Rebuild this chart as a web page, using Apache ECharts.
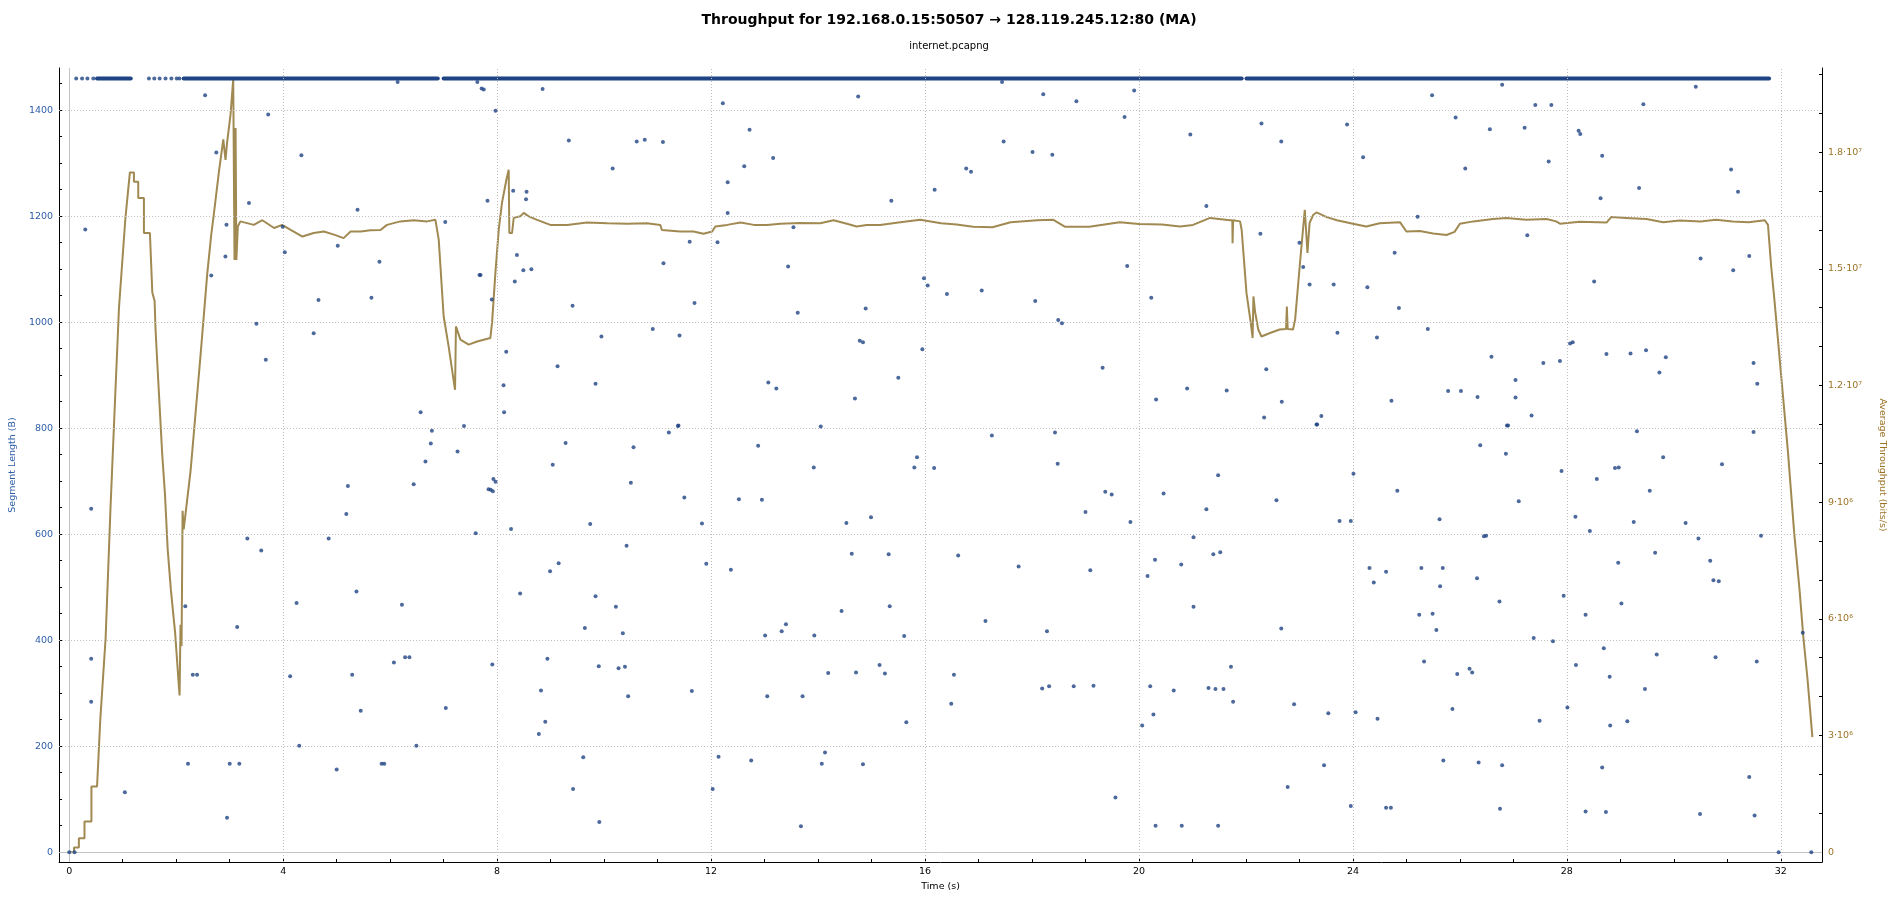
<!DOCTYPE html>
<html>
<head>
<meta charset="utf-8">
<script src="https://cdn.jsdelivr.net/npm/echarts@6/dist/echarts.min.js"></script>
<style>
html, body { margin: 0; padding: 0; background: #fff; }
#container { width: 1898px; height: 901px; }
</style>
</head>
<body>
<div id="container"></div>
<script>
// axis ticks
var timeLabels = [0, 4, 8, 12, 16, 20, 24, 28, 32];
var timeTicks = [0,1,2,3,4,5,6,7,8,9,10,11,12,13,14,15,16,17,18,19,20,21,22,23,24,25,26,27,28,29,30,31,32];
var segLabels = [0, 200, 400, 600, 800, 1000, 1200, 1400];
var segTicks = [0,50,100,150,200,250,300,350,400,450,500,550,600,650,700,750,800,850,900,950,1000,1050,1100,1150,1200,1250,1300,1350,1400,1450];
var tputLabels = [0, 3e6, 6e6, 9e6, 12e6, 15e6, 18e6];
var tputTicks = [0,1e6,2e6,3e6,4e6,5e6,6e6,7e6,8e6,9e6,10e6,11e6,12e6,13e6,14e6,15e6,16e6,17e6,18e6,19e6,20e6];

// full-size segments (1460 B) : dense runs and a few isolated ones
var fullLen = 1460;
var fullRuns = [[0.52, 1.15], [2.14, 6.89], [7.00, 21.92], [22.01, 31.78]];
var fullSingles = [0.13, 0.24, 0.34, 0.45, 1.49, 1.59, 1.69, 1.80, 1.91, 2.01, 2.06];

// other segments [time s, length B]
var segments = [
  [0.0,0],[0.1,0],[0.30,1175],[0.41,648],[0.41,365],[0.41,284],[1.04,113],
  [2.54,1428],[3.72,1392],[2.75,1320],[4.34,1315],[3.36,1225],[5.39,1212],[2.94,1184],[3.99,1180],[7.03,1189],
  [5.02,1144],[4.03,1132],[2.92,1124],[5.80,1114],[2.655,1088],[4.66,1042],[5.65,1046],[3.50,997],[4.57,979],
  [3.675,929],[6.57,830],[6.78,795],[6.76,771],[6.66,737],[5.21,691],[6.44,694],[5.18,638],[3.33,592],[4.85,592],
  [3.59,569],[5.37,492],[4.25,470],[6.22,467],[2.17,464],[3.14,425],[6.07,358],[6.28,368],[6.36,368],[2.31,335],
  [2.39,335],[4.13,332],[5.29,335],[7.91,354],[5.45,267],[7.04,272],[4.30,201],[6.49,201],[5.0,156],[2.22,167],
  [3.00,167],[3.18,167],[2.95,65],[5.84,167],[5.89,167],[7.26,756],[7.38,804],[7.60,602],[7.93,704],[7.97,699],
  [7.84,685],[7.88,684],[7.92,681],
  [6.14,1453],[7.63,1453],[7.71,1441],[7.75,1439],[7.97,1399],[7.82,1229],[7.67,1089],[7.69,1089],[7.90,1043],
  [8.12,881],[8.13,830],[8.17,944],
  [8.30,1248],[8.55,1246],[8.54,1232],[8.37,1127],[8.33,1077],[8.49,1098],[8.64,1100],[8.85,1440],
  [9.34,1343],[10.61,1341],[10.76,1344],[11.10,1340],[10.16,1290],[12.72,1363],[13.16,1310],[12.62,1294],
  [12.31,1264],[12.31,1206],[12.12,1151],[11.60,1152],[11.11,1111],[11.69,1036],[11.41,975],[10.91,987],
  [9.95,973],[9.41,1031],[9.13,917],[9.84,884],[13.44,1105],[13.62,1018],[13.54,1179],[13.07,886],[13.22,875],
  [14.78,965],[14.84,962],[14.69,856],[14.89,1026],[14.05,803],[11.39,805],[12.22,1413],
  [8.26,610],[8.43,488],[8.78,223],[8.82,305],[8.90,246],[8.94,365],[8.99,530],[9.04,731],[9.15,545],[9.28,772],
  [9.42,119],[9.61,179],[9.64,423],[9.74,619],[9.84,483],[9.90,351],[9.91,57],[10.22,463],[10.27,347],[10.39,350],
  [10.35,413],[10.42,578],[10.45,294],[10.50,697],[10.55,764],[11.21,792],[11.38,804],[11.50,669],[11.64,304],
  [11.83,620],[11.91,544],[12.03,119],[12.14,180],[12.37,533],[12.52,666],[12.75,173],[12.88,767],[12.95,665],
  [13.01,409],[13.05,294],[13.32,417],[13.40,430],[13.68,49],[13.71,294],[13.92,726],[13.93,409],[14.07,167],
  [14.13,188],[14.19,338],
  [14.53,621],[14.63,563],[14.44,455],[14.71,339],[14.84,166],[14.99,632],[15.15,353],[15.25,337],[15.32,562],
  [15.34,464],[15.61,408],[15.65,245],[15.80,726],[15.85,745],[16.17,725],[16.49,280],[16.54,335],[16.62,560],
  [17.13,436],[17.25,786],[17.75,539],[18.19,309],[18.32,313],[18.28,417],[18.43,792],[18.48,733],[18.78,313],
  [19.15,314],[19.00,642],[19.09,532],[19.37,680],[19.49,675],[19.56,103],[19.84,623],
  [14.75,1426],[15.37,1229],[15.50,895],[15.95,949],[15.98,1083],[16.05,1069],[16.18,1250],[16.41,1053],
  [16.77,1290],[16.86,1284],[17.06,1060],[17.44,1453],[17.47,1341],[18.01,1321],[18.38,1316],[18.06,1040],
  [18.21,1430],[18.49,1004],[18.56,998],[18.83,1417],[19.32,914],[19.73,1387],[19.78,1106],[19.91,1437],
  [20.23,1046],[20.32,854],
  [20.06,239],[20.16,521],[20.21,313],[20.27,260],[20.30,552],[20.31,50],[20.46,677],[20.65,305],[20.79,543],
  [20.80,50],[21.02,463],[21.02,594],[21.26,647],[21.30,310],[21.43,308],[21.58,308],[21.39,562],[21.52,566],
  [21.48,711],[21.48,50],[21.72,350],[21.76,284],
  [20.96,1354],[22.66,1341],[24.19,1311],[26.10,1290],[27.66,1303],[28.22,1361],[28.25,1355],[28.66,1314],
  [28.63,1234],[29.35,1253],[26.56,1364],[21.26,1219],[22.27,1167],[25.21,1199],[27.26,1164],[23.0,1150],
  [23.07,1104],[23.19,1071],[23.64,1071],[24.78,1131],[24.27,1066],[24.86,1027],[23.71,980],[24.45,971],
  [25.40,987],[28.51,1077],[22.38,911],[20.90,875],[21.64,871],[22.67,850],[22.34,820],[23.41,823],[23.33,807],
  [24.72,852],[26.59,935],[25.78,870],[26.02,870],[26.33,859],[27.04,891],[27.04,858],[27.34,824],[26.90,805],
  [27.56,923],[27.87,927],[28.06,960],[28.11,962],[28.74,940],[29.19,941],[29.48,947],[29.73,905],[29.85,934],
  [22.29,1375],[23.89,1373],
  [22.57,664],[22.66,422],[22.78,123],[22.90,279],[23.32,807],[23.46,164],[23.54,262],[23.75,625],[23.96,625],
  [23.96,87],[24.01,714],[24.05,264],[24.31,536],[24.39,509],[24.46,252],[24.62,529],[24.62,84],[24.71,84],
  [24.83,682],[25.24,448],[25.28,536],[25.33,360],[25.49,450],[25.56,419],[25.62,628],[25.63,502],[25.68,536],
  [25.69,173],[25.86,270],[25.95,336],[26.18,346],[26.23,339],[26.32,517],[26.35,169],[26.38,768],[26.45,596],
  [26.49,597],[26.74,473],[26.75,82],[26.79,164],[26.86,752],[26.88,805],[27.10,662],[27.38,404],[27.49,248],
  [27.74,398],
  [27.90,719],[27.94,484],[28.01,273],[28.16,633],[28.17,353],[28.35,77],[28.35,448],[28.43,606],[28.56,704],
  [28.66,160],[28.69,385],[28.73,76],[28.80,331],[28.81,239],[28.90,725],[28.97,726],[28.96,546],[29.02,469],
  [29.13,247],[29.25,623],[29.31,794],[29.46,308],[29.55,682],[29.65,565],[29.68,373],[29.80,745],[30.22,621],
  [30.46,592],[30.49,72],[30.68,550],[30.74,513],[30.84,511],[30.78,368],[30.90,732],[31.41,142],[31.49,793],
  [31.51,69],[31.55,360],[31.63,597],[31.96,0],[32.41,414],[32.57,0],
  [25.48,1428],[26.79,1448],[25.92,1386],[27.21,1367],[27.41,1410],[27.71,1410],[29.43,1411],[30.41,1444],
  [31.07,1288],[31.20,1246],[30.50,1120],[31.11,1098],[31.41,1125],[31.49,923],[31.56,884]
];

// moving-average throughput [time s, Mbit/s]
var throughput = [
  [0,0],[0.09,0],[0.09,0.12],[0.18,0.12],[0.18,0.36],[0.285,0.36],[0.285,0.79],[0.415,0.79],[0.415,1.69],
  [0.52,1.69],[0.58,3.4],[0.68,5.5],[0.77,8.8],[0.84,11.1],[0.93,14.0],[1.05,16.3],[1.134,17.48],[1.209,17.48],
  [1.209,17.24],[1.29,17.24],[1.29,16.82],[1.396,16.82],[1.396,15.92],[1.508,15.92],[1.553,14.39],[1.596,14.17],
  [1.614,13.42],[1.676,11.82],[1.739,10.22],[1.79,9.2],[1.84,7.8],[1.90,6.75],[1.98,5.64],[2.05,4.26],
  [2.063,4.03],[2.08,5.85],[2.10,5.3],[2.119,8.78],[2.14,8.30],[2.175,8.30],[2.268,9.80],[2.35,11.1],
  [2.455,12.78],[2.58,14.87],[2.655,15.88],[2.704,16.41],[2.797,17.48],[2.88,18.33],[2.922,17.80],[2.95,18.23],
  [3.016,18.97],[3.066,19.88],[3.09,15.23],[3.11,18.62],[3.125,15.23],[3.152,16.09],[3.20,16.22],[3.45,16.13],
  [3.61,16.25],[3.83,16.05],[3.98,16.13],[4.14,16.0],[4.36,15.83],[4.57,15.92],[4.76,15.96],[4.95,15.88],
  [5.13,15.79],[5.26,15.96],[5.45,15.96],[5.63,15.99],[5.82,16.0],[5.94,16.13],[6.19,16.22],[6.44,16.25],
  [6.69,16.22],[6.846,16.26],[6.908,15.75],[7.0,13.78],[7.094,13.0],[7.157,12.41],[7.213,11.89],[7.23,13.52],
  [7.26,13.5],[7.313,13.18],[7.468,13.05],[7.625,13.13],[7.873,13.22],[7.905,13.61],[7.967,14.89],[8.03,16.01],
  [8.09,16.69],[8.173,17.29],[8.216,17.55],[8.228,15.92],[8.279,15.92],[8.31,16.31],[8.433,16.35],[8.496,16.44],
  [8.59,16.35],[8.746,16.26],[8.995,16.13],[9.31,16.13],[9.68,16.19],[10.06,16.17],[10.43,16.16],[10.8,16.17],
  [11.05,16.13],[11.08,16.0],[11.42,15.96],[11.67,15.96],[11.86,15.90],[12.02,15.96],[12.08,16.09],[12.3,16.13],
  [12.55,16.19],[12.8,16.13],[13.05,16.13],[13.29,16.16],[13.66,16.18],[14.04,16.17],[14.29,16.25],[14.54,16.16],
  [14.72,16.09],[14.91,16.13],[15.16,16.13],[15.5,16.19],[15.91,16.26],[16.3,16.17],[16.59,16.14],[16.9,16.08],
  [17.26,16.07],[17.6,16.2],[18.1,16.25],[18.4,16.26],[18.62,16.08],[19.07,16.08],[19.64,16.2],[20.0,16.15],
  [20.43,16.14],[20.77,16.09],[21.01,16.13],[21.33,16.31],[21.70,16.25],[21.745,16.25],[21.75,15.66],
  [21.76,16.25],[21.89,16.22],[21.92,16.0],[22.01,14.38],[22.09,13.61],[22.125,13.22],[22.14,14.29],
  [22.17,13.9],[22.23,13.44],[22.29,13.26],[22.45,13.35],[22.63,13.44],[22.75,13.45],[22.765,14.03],
  [22.78,13.45],[22.88,13.44],[22.92,13.7],[23.01,15.15],[23.10,16.52],[23.13,16.56],[23.15,15.41],
  [23.19,16.18],[23.26,16.39],[23.32,16.45],[23.51,16.33],[23.7,16.25],[24.0,16.16],[24.25,16.09],[24.5,16.17],
  [24.88,16.2],[25.0,15.96],[25.25,15.97],[25.5,15.91],[25.75,15.87],[25.9,15.95],[26.0,16.16],[26.25,16.22],
  [26.62,16.28],[26.87,16.31],[27.24,16.26],[27.62,16.28],[27.80,16.22],[27.87,16.16],[28.24,16.21],
  [28.74,16.19],[28.83,16.33],[29.1,16.31],[29.49,16.28],[29.8,16.2],[30.11,16.24],[30.5,16.22],[30.79,16.26],
  [31.10,16.22],[31.4,16.2],[31.70,16.25],[31.76,16.13],[31.82,15.06],[31.88,14.21],[32.13,10.35],[32.25,8.21],
  [32.35,6.75],[32.42,5.55],[32.50,4.44],[32.59,2.96]
];

var segColor = '#1f4383';
var segText = '#2f5ea8';
var tputColor = '#a08a52';
var tputText = '#9c7426';
var fontName = 'DejaVu Sans';

var supDigits = { 5: '\u2075', 6: '\u2076', 7: '\u2077', 8: '\u2078' };
function sciLabel(v) {
    if (v === 0) return '0';
    var e = Math.floor(Math.log10(v) + 1e-9);
    var m = +(v / Math.pow(10, e)).toFixed(1);
    return m + '\u00b7' + '10' + supDigits[e];
}
function plainLabel(v) {
    return String(v);
}

var myChart = echarts.init(document.getElementById('container'));

var series = [];

// grid lines as mark lines so they follow the labelled values only
series.push({
    type: 'line',
    data: [],
    xAxisIndex: 0,
    yAxisIndex: 0,
    silent: true,
    z: 1,
    markLine: {
        silent: true,
        symbol: ['none', 'none'],
        label: { show: false },
        animation: false,
        data: timeLabels.map(function (t) {
            return { xAxis: t, lineStyle: { color: t === 0 ? '#c4c4c4' : '#bdbdbd', type: t === 0 ? 'solid' : [1, 2], width: 1 } };
        }).concat(segLabels.map(function (s) {
            return { yAxis: s, lineStyle: { color: s === 0 ? '#c4c4c4' : '#bdbdbd', type: s === 0 ? 'solid' : [1, 2], width: 1 } };
        }))
    }
});

// throughput line
series.push({
    type: 'line',
    name: 'Throughput',
    xAxisIndex: 0,
    yAxisIndex: 1,
    showSymbol: false,
    symbol: 'none',
    z: 3,
    lineStyle: { color: tputColor, width: 2 },
    data: throughput.map(function (p) { return [p[0], p[1] * 1e6]; })
});

// dense runs of full segments
fullRuns.forEach(function (r) {
    series.push({
        type: 'line',
        xAxisIndex: 0,
        yAxisIndex: 0,
        symbol: 'none',
        z: 4,
        lineStyle: { color: segColor, width: 4, cap: 'round' },
        data: [[r[0], fullLen], [r[1], fullLen]]
    });
});

// individual segments
series.push({
    type: 'scatter',
    name: 'Segment Length',
    xAxisIndex: 0,
    yAxisIndex: 0,
    symbolSize: 4,
    z: 5,
    itemStyle: { color: segColor },
    data: segments.concat(fullSingles.map(function (t) { return [t, fullLen]; }))
});

var option = {
    animation: false,
    backgroundColor: '#ffffff',
    textStyle: { fontFamily: fontName },
    title: [
        {
            text: 'Throughput for 192.168.0.15:50507 \u2192 128.119.245.12:80 (MA)',
            left: 'center',
            top: 8,
            textStyle: { fontFamily: fontName, fontSize: 14, fontWeight: 'bold', color: '#000' }
        },
        {
            text: 'internet.pcapng',
            left: 'center',
            top: 36,
            textStyle: { fontFamily: fontName, fontSize: 10, fontWeight: 'normal', color: '#000' }
        }
    ],
    grid: { left: 58, right: 76, top: 68, bottom: 39, containLabel: false },
    xAxis: [{
        type: 'value',
        min: -0.19,
        max: 32.77,
        name: 'Time (s)',
        nameLocation: 'middle',
        nameGap: 20,
        nameTextStyle: { fontFamily: fontName, fontSize: 9.5, color: '#000' },
        axisLine: { show: true, onZero: false, lineStyle: { color: '#000', width: 1 } },
        axisTick: { show: true, inside: true, length: 3, customValues: timeTicks, lineStyle: { color: '#000' } },
        axisLabel: { customValues: timeLabels, fontFamily: fontName, fontSize: 9.5, color: '#000', margin: 5, formatter: plainLabel },
        splitLine: { show: false }
    }],
    yAxis: [
        {
            type: 'value',
            position: 'left',
            min: -18.5,
            max: 1479.6,
            name: 'Segment Length (B)',
            nameLocation: 'middle',
            nameGap: 36,
            nameTextStyle: { fontFamily: fontName, fontSize: 9.5, color: segText },
            axisLine: { show: true, onZero: false, lineStyle: { color: '#000', width: 1 } },
            axisTick: { show: true, inside: true, length: 3, customValues: segTicks, lineStyle: { color: '#000' } },
            axisLabel: { customValues: segLabels, fontFamily: fontName, fontSize: 9.5, color: segText, margin: 6, formatter: plainLabel },
            splitLine: { show: false }
        },
        {
            type: 'value',
            position: 'right',
            min: -0.252e6,
            max: 20.164e6,
            name: 'Average Throughput (bits/s)',
            nameLocation: 'middle',
            nameGap: 55,
            nameRotate: -90,
            nameTextStyle: { fontFamily: fontName, fontSize: 9.5, color: tputText },
            axisLine: { show: true, onZero: false, lineStyle: { color: '#000', width: 1 } },
            axisTick: { show: true, inside: true, length: 3, customValues: tputTicks, lineStyle: { color: '#000' } },
            axisLabel: { customValues: tputLabels, fontFamily: fontName, fontSize: 9.5, color: tputText, margin: 6, formatter: sciLabel },
            splitLine: { show: false }
        }
    ],
    series: series
};

myChart.setOption(option);
</script>
</body>
</html>
